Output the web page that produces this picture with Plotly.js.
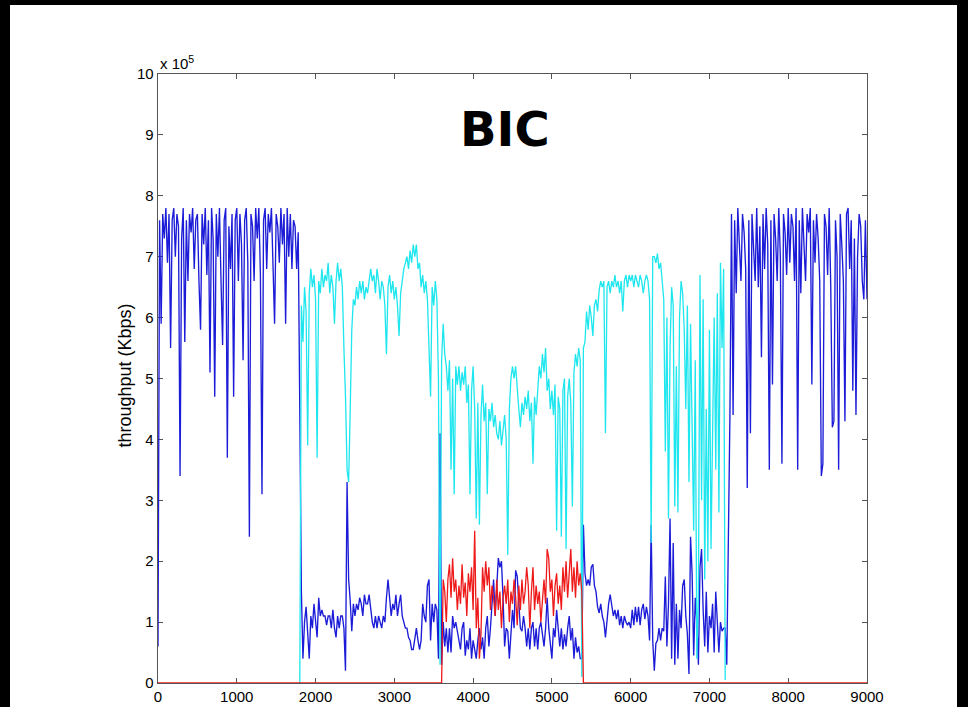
<!DOCTYPE html>
<html>
<head>
<meta charset="utf-8">
<script src="https://cdn.plot.ly/plotly-3.0.1.min.js"></script>
<style>
  html, body { margin: 0; padding: 0; background: #000; width: 968px; height: 707px; overflow: hidden; }
  #chart { position: absolute; left: 10px; top: 5px; width: 947px; height: 702px; background: #fff; }
</style>
</head>
<body>
<div id="chart"></div>
<script>
// sampling of the time axis (seconds)
const sampleStep = 20;
const blueStartX = 0;
const cyanStartX = 1800;
const redStartX = 3600;
const axisEnd = 9000;

// flow 1 (blue), values in units of 1e5 Kbps, one value per 20 s from 0 to 9000
const blue = [
  0.6,7.6,5.9,7.7,7.3,7.8,6.9,7.7,5.5,7.6,
  7.8,7.0,7.7,7.5,3.4,7.3,7.8,5.6,7.6,6.6,
  7.7,7.4,7.8,6.8,7.6,7.7,6.6,5.8,7.7,7.2,
  7.8,6.7,7.6,5.1,7.8,7.3,4.7,7.7,7.0,7.8,
  6.6,5.55,7.6,7.8,3.7,7.5,6.8,7.7,4.7,7.6,
  7.8,6.6,7.7,7.2,5.3,7.6,7.8,6.9,2.4,7.7,
  7.5,6.6,7.8,7.3,7.8,6.7,3.1,7.6,7.8,6.8,
  7.7,7.4,7.8,6.6,5.9,7.7,7.5,6.9,7.8,7.2,
  7.7,5.9,7.8,7.0,7.7,6.8,7.6,7.5,6.8,7.4,
  5.0,1.5,0.4,1.0,1.25,0.9,0.4,1.1,0.9,1.3,
  1.0,0.75,1.4,1.1,1.2,1.1,1.1,0.95,1.1,1.1,
  0.9,1.2,0.9,0.75,1.1,0.9,1.1,1.1,0.9,0.2,
  3.3,1.7,1.35,0.85,1.3,1.1,1.3,1.2,1.4,1.3,
  1.1,1.45,1.3,1.3,1.45,1.2,1.0,0.9,1.1,0.9,
  1.1,1.0,0.9,1.1,1.0,1.4,1.7,1.4,1.1,1.3,
  1.2,1.45,1.1,1.3,1.45,1.1,1.0,0.9,0.9,0.75,
  0.7,0.55,0.55,0.7,0.9,0.7,0.55,0.7,1.3,1.1,
  1.0,1.6,1.7,0.7,1.3,1.0,1.3,1.2,0.4,4.1,
  0.3,1.0,0.6,0.9,0.5,0.9,0.5,1.1,0.9,1.0,
  0.85,0.75,0.55,0.9,1.0,0.45,0.7,0.55,0.9,0.4,
  0.7,0.55,0.4,0.7,0.9,0.55,0.75,0.4,0.9,1.1,
  0.6,0.9,1.4,1.7,1.1,1.65,2.05,1.9,2.0,1.4,
  0.6,0.9,0.85,0.4,0.9,1.2,0.9,1.85,1.75,1.3,
  0.9,0.85,1.1,0.9,0.6,0.9,0.55,0.9,1.0,0.6,
  0.9,0.55,0.9,1.0,0.75,0.6,0.9,1.4,0.9,0.6,
  0.4,0.9,0.75,1.2,0.9,0.6,0.9,0.55,0.8,0.6,
  0.9,1.1,0.7,0.9,0.4,0.75,0.5,0.6,0.4,0.4,
  2.6,1.8,1.6,1.7,1.6,1.9,1.95,1.6,1.5,1.25,
  1.15,1.3,1.1,1.0,0.75,1.1,1.3,1.45,1.3,1.1,
  1.2,1.05,1.2,0.95,1.1,0.9,1.1,1.0,0.95,1.0,
  0.9,1.2,0.95,1.25,1.0,1.25,0.95,1.2,1.3,1.05,
  1.25,1.1,0.7,2.6,0.7,0.2,0.65,0.7,0.9,0.7,
  0.9,0.85,1.75,0.6,1.3,2.7,0.4,2.3,0.3,1.3,
  0.4,1.2,0.9,1.6,1.7,1.1,0.8,0.15,2.4,1.8,
  0.45,1.4,1.0,0.3,1.9,2.2,1.2,0.6,1.5,0.5,
  1.1,0.9,1.3,0.5,1.5,0.9,0.5,1.0,0.85,0.9,
  0.9,0.3,2.5,4.4,7.7,4.4,7.6,6.4,7.8,7.2,
  6.6,7.7,7.4,6.8,3.2,7.6,4.1,7.7,7.2,6.6,
  7.8,6.5,7.5,5.35,7.7,6.8,7.8,7.2,3.5,7.6,
  4.9,7.7,7.3,6.6,7.8,7.0,3.6,7.7,7.4,6.7,
  7.8,6.9,7.7,7.5,6.6,7.8,3.5,7.6,6.4,7.8,
  7.2,6.6,7.7,7.4,7.8,4.9,7.6,6.9,7.7,7.3,
  6.6,3.4,3.6,7.7,7.5,6.7,7.8,6.5,4.2,4.3,
  7.6,7.0,3.5,7.7,7.2,6.6,4.3,7.7,7.8,6.8,
  7.6,4.8,7.3,4.4,7.0,7.7,7.5,6.6,6.3,7.6,
  6.3
];

// flow 2 (cyan), one value per 20 s from 1800 to 7200
const cyan = [
  0.0,6.2,5.6,6.5,6.1,3.9,6.4,6.8,6.5,6.7,
  6.3,3.7,6.6,6.4,6.8,6.5,6.7,6.6,6.9,6.4,
  6.7,6.5,5.9,6.6,6.9,6.6,6.8,6.5,5.5,4.7,
  3.5,3.3,4.5,5.8,6.3,6.2,6.5,6.3,6.6,6.4,
  6.6,6.3,6.5,6.4,6.6,6.8,6.6,6.7,6.4,6.8,
  6.6,6.3,6.6,6.5,6.2,5.4,6.5,6.7,6.4,6.6,
  6.3,6.5,6.2,5.7,6.4,6.6,6.8,6.9,7.0,6.8,
  7.1,6.9,7.2,7.0,7.2,6.8,6.9,6.5,6.7,6.4,
  6.6,6.3,5.5,4.7,6.5,6.2,6.6,6.3,5.0,0.3,
  5.3,5.9,5.4,5.2,4.8,5.3,3.5,5.0,3.1,5.2,
  4.9,5.2,4.8,5.1,4.9,5.2,4.6,4.9,3.1,4.8,
  5.2,4.5,2.7,4.6,2.6,4.4,4.9,4.3,4.6,3.1,
  4.5,4.3,4.6,4.2,4.4,4.1,4.0,4.3,3.9,4.2,
  4.4,4.0,2.1,4.5,5.0,5.2,5.0,5.2,4.8,4.5,
  4.2,4.6,4.4,4.7,4.5,4.8,4.3,4.6,3.6,4.7,
  4.4,4.9,5.2,5.0,5.4,5.1,5.5,4.8,5.0,4.5,
  4.8,4.4,4.9,2.5,4.7,4.5,2.4,4.8,5.0,2.2,
  4.7,5.0,4.6,2.9,5.1,5.4,5.2,5.5,5.3,0.1,
  5.5,5.6,6.1,5.8,6.2,6.0,5.7,6.2,6.3,6.1,
  6.45,6.6,6.5,6.6,4.1,6.5,6.6,6.4,6.6,6.5,
  6.7,6.5,6.6,6.4,6.6,6.1,6.6,6.7,6.5,6.7,
  6.6,6.7,6.5,6.7,6.6,6.5,6.7,6.6,6.4,6.6,
  6.7,6.6,6.3,2.3,7.0,7.0,6.9,7.05,6.8,6.9,
  6.6,6.3,3.8,6.0,2.7,5.5,6.5,6.2,2.9,5.2,
  2.8,6.0,6.6,6.4,5.8,4.5,6.2,3.3,5.9,4.0,
  2.5,5.3,0.4,1.4,6.7,3.0,6.3,1.7,4.5,2.0,
  5.8,2.2,4.2,6.0,3.5,6.4,2.8,6.9,5.5,6.8,
  0.05
];

// flow 3 (red), one value per 20 s from 3600 to 5400 (zero elsewhere)
const red = [
  0.0,1.7,1.5,1.0,1.7,1.95,1.4,2.05,1.5,1.7,
  1.2,1.6,1.3,1.95,1.4,1.65,1.1,1.8,1.5,1.9,
  1.2,2.5,0.9,1.4,0.4,0.8,1.9,1.5,2.0,1.6,
  1.9,1.2,1.6,1.4,1.1,1.7,1.2,1.5,0.9,1.4,
  1.6,1.3,1.7,1.0,1.5,1.3,1.7,1.4,0.95,1.6,
  1.2,1.7,1.3,1.5,1.9,1.6,0.9,1.5,1.9,1.2,
  1.6,1.3,1.5,1.0,1.4,1.7,1.3,2.2,2.05,1.5,
  1.7,1.1,1.6,1.8,1.3,1.6,1.2,1.9,1.5,2.0,
  1.4,1.8,2.2,1.5,1.9,1.4,2.0,1.6,1.8,1.5,
  0.0
];

const xTicks = [0,1000,2000,3000,4000,5000,6000,7000,8000,9000];
const yTicks = [0,1,2,3,4,5,6,7,8,9,10];

const blueX = blue.map((v, i) => blueStartX + i * sampleStep);
const cyanX = cyan.map((v, i) => cyanStartX + i * sampleStep);
const redX = [0].concat(red.map((v, i) => redStartX + i * sampleStep), [axisEnd]);
const redY = [0].concat(red, [0]);

const traces = [
  { x: blueX, y: blue, type: 'scatter', mode: 'lines', line: { color: '#1c1cd8', width: 1.35 }, hoverinfo: 'skip' },
  { x: cyanX, y: cyan, type: 'scatter', mode: 'lines', line: { color: '#1ee6ee', width: 1.3 }, hoverinfo: 'skip' },
  { x: redX, y: redY, type: 'scatter', mode: 'lines', line: { color: '#ee1a1a', width: 1.3 }, hoverinfo: 'skip' }
];

const tickFont = { family: 'Liberation Sans, Arial, sans-serif', size: 15, color: '#000' };

const layout = {
  width: 947, height: 702,
  margin: { l: 148, r: 90, t: 69, b: 24, pad: 0 },
  paper_bgcolor: '#fff', plot_bgcolor: '#fff',
  showlegend: false,
  xaxis: {
    range: [0, 9000], tickvals: xTicks, ticktext: xTicks.map(String),
    ticks: 'inside', ticklen: 5, tickcolor: '#555', tickwidth: 1,
    showline: true, linecolor: '#555', linewidth: 1.3, mirror: 'ticks',
    showgrid: false, zeroline: false, layer: 'below traces',
    tickfont: tickFont, fixedrange: true
  },
  yaxis: {
    range: [0, 10], tickvals: yTicks, ticktext: yTicks.map(String),
    ticks: 'inside', ticklen: 5, tickcolor: '#555', tickwidth: 1,
    showline: true, linecolor: '#555', linewidth: 1.3, mirror: 'ticks',
    showgrid: false, zeroline: false, layer: 'below traces',
    tickfont: tickFont, fixedrange: true
  },
  annotations: [
    { text: '<b>BIC</b>', xref: 'paper', yref: 'paper', x: 0.4894, y: 0.9097,
      xanchor: 'center', yanchor: 'middle', showarrow: false,
      font: { family: 'DejaVu Sans, Verdana, sans-serif', size: 48, color: '#000' } },
    { text: 'x 10<sup>5</sup>', xref: 'paper', yref: 'paper', x: 0.0, y: 1.0,
      xanchor: 'left', yanchor: 'bottom', showarrow: false,
      font: { family: 'Liberation Sans, Arial, sans-serif', size: 15, color: '#000' } },
    { text: 'throughput (Kbps)', xref: 'paper', yref: 'paper', x: -0.0465, y: 0.505,
      xanchor: 'center', yanchor: 'middle', textangle: -90, showarrow: false,
      font: { family: 'Liberation Sans, Arial, sans-serif', size: 18, color: '#000' } }
  ]
};

Plotly.newPlot('chart', traces, layout, { displayModeBar: false, staticPlot: true });
</script>
</body>
</html>
